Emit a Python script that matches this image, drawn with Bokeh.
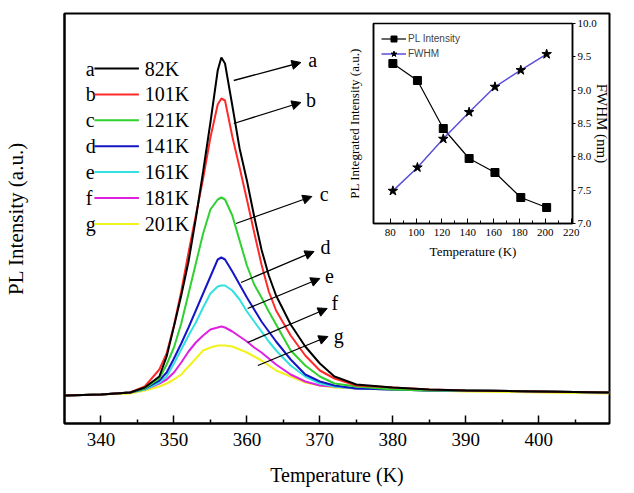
from bokeh.plotting import figure
from bokeh.models import (Range1d, LinearAxis, FixedTicker, Arrow, NormalHead,
                          Legend, LegendItem, NumeralTickFormatter)
from bokeh.layouts import column, row
from bokeh.embed import file_html
from bokeh.resources import INLINE
from bokeh.core.properties import value

# ---------------- main spectra data ----------------
wavelength = [335, 340, 344, 346, 348, 349, 350, 351, 352, 353, 354, 355, 356, 356.5, 357,
              358, 359, 360, 361, 362, 363, 364, 366, 368, 370, 372, 375, 380, 385, 390, 400, 409.7]
pl_82K = [0.00, 0.01, 0.03, 0.08, 0.19, 0.39, 0.69, 1.00, 1.34, 1.77, 2.24, 2.73, 3.25, 3.38, 3.32,
          2.90, 2.47, 2.15, 1.79, 1.46, 1.20, 1.00, 0.71, 0.49, 0.32, 0.19, 0.11, 0.08, 0.06, 0.05, 0.04, 0.03]
pl_101K = [0.00, 0.01, 0.03, 0.09, 0.26, 0.42, 0.70, 1.04, 1.43, 1.80, 2.17, 2.58, 2.91, 2.97, 2.95,
           2.59, 2.28, 1.96, 1.63, 1.31, 1.04, 0.85, 0.60, 0.40, 0.25, 0.17, 0.10, 0.08, 0.06, 0.05, 0.04, 0.03]
pl_121K = [0.00, 0.01, 0.03, 0.07, 0.17, 0.31, 0.48, 0.72, 1.02, 1.32, 1.62, 1.86, 1.96, 1.98, 1.96,
           1.80, 1.55, 1.30, 1.11, 0.98, 0.84, 0.71, 0.45, 0.30, 0.19, 0.12, 0.09, 0.06, 0.05, 0.05, 0.04, 0.03]
pl_141K = [0.00, 0.01, 0.03, 0.07, 0.15, 0.23, 0.37, 0.52, 0.68, 0.85, 1.02, 1.19, 1.36, 1.38, 1.36,
           1.24, 1.11, 0.98, 0.86, 0.74, 0.64, 0.54, 0.36, 0.21, 0.14, 0.10, 0.07, 0.06, 0.05, 0.05, 0.04, 0.03]
pl_161K = [0.00, 0.01, 0.03, 0.06, 0.13, 0.19, 0.32, 0.46, 0.60, 0.73, 0.88, 1.02, 1.09, 1.10, 1.10,
           1.05, 0.96, 0.84, 0.74, 0.64, 0.54, 0.45, 0.30, 0.19, 0.12, 0.09, 0.07, 0.06, 0.05, 0.05, 0.04, 0.03]
pl_181K = [0.00, 0.01, 0.03, 0.06, 0.12, 0.16, 0.23, 0.33, 0.44, 0.53, 0.60, 0.66, 0.68, 0.69, 0.68,
           0.64, 0.59, 0.54, 0.48, 0.43, 0.37, 0.31, 0.21, 0.14, 0.10, 0.09, 0.07, 0.06, 0.05, 0.05, 0.04, 0.03]
pl_201K = [0.00, 0.01, 0.02, 0.05, 0.09, 0.12, 0.16, 0.21, 0.29, 0.37, 0.45, 0.48, 0.50, 0.50, 0.50,
           0.49, 0.46, 0.43, 0.39, 0.35, 0.30, 0.25, 0.19, 0.13, 0.10, 0.08, 0.07, 0.06, 0.05, 0.04, 0.03, 0.02]

series = [pl_82K, pl_101K, pl_121K, pl_141K, pl_161K, pl_181K, pl_201K]
letters = ["a", "b", "c", "d", "e", "f", "g"]
temp_labels = ["82K", "101K", "121K", "141K", "161K", "181K", "201K"]
colors = ["#000000", "#ff2a2a", "#2ed12e", "#1515c8", "#33e0e0", "#e020e0", "#f2f21e"]

x_ticks = [340, 350, 360, 370, 380, 390, 400, 410]
x_minor = [345, 355, 365, 375, 385, 395, 405]

# arrow annotations: start on curve -> end near letter
arrow_x_start = [358.2, 358.2, 358.5, 359.2, 360.1, 360.1, 361.5]
arrow_y_start = [3.15, 2.72, 1.72, 1.13, 0.87, 0.53, 0.30]
arrow_x_end = [367.4, 367.4, 368.9, 369.2, 370.0, 371.0, 371.1]
arrow_y_end = [3.33, 2.93, 1.99, 1.44, 1.17, 0.87, 0.59]
letter_x = [368.4, 368.1, 370.0, 370.1, 370.7, 371.6, 371.9]
letter_y = [3.36, 2.96, 2.02, 1.49, 1.20, 0.93, 0.60]

# ---------------- inset data ----------------
inset_temps = [82, 101, 121, 141, 161, 181, 201]
inset_pl = [0.80, 0.715, 0.475, 0.325, 0.255, 0.13, 0.08]
inset_fwhm = [7.49, 7.84, 8.27, 8.67, 9.05, 9.30, 9.54]
fwhm_ticks = [7.0, 7.5, 8.0, 8.5, 9.0, 9.5, 10.0]
inset_x_ticks = [80, 100, 120, 140, 160, 180, 200, 220]
inset_x_minor = [90, 110, 130, 150, 170, 190, 210]

SERIF = "Liberation Serif"

# ---------------- main figure ----------------
p = figure(frame_width=545, frame_height=410,
           x_range=Range1d(335, 409.7), y_range=Range1d(-0.28, 3.82),
           output_backend="svg", toolbar_location=None,
           min_border_left=63, min_border_right=20, min_border_top=13, min_border_bottom=70)
p.grid.visible = False
p.outline_line_color = "black"
p.outline_line_width = 2
p.background_fill_color = "white"
p.border_fill_color = "white"

xa = p.xaxis[0]
xa.ticker = FixedTicker(ticks=x_ticks, minor_ticks=x_minor)
xa.major_tick_in = 8
xa.major_tick_out = 0
xa.minor_tick_in = 4
xa.minor_tick_out = 0
xa.major_tick_line_width = 1.5
xa.minor_tick_line_width = 1.5
xa.major_tick_line_color = "black"
xa.minor_tick_line_color = "black"
xa.axis_line_width = 2
xa.axis_line_color = "black"
xa.major_label_text_font = SERIF
xa.major_label_text_font_size = "19px"
xa.major_label_text_color = "black"
xa.major_label_standoff = 9
xa.axis_label = "Temperature (K)"
xa.axis_label_text_font = SERIF
xa.axis_label_text_font_size = "20px"
xa.axis_label_text_font_style = "normal"
xa.axis_label_text_color = "black"
xa.axis_label_standoff = 15

ya = p.yaxis[0]
ya.ticker = FixedTicker(ticks=[])
ya.major_tick_in = 0
ya.major_tick_out = 0
ya.minor_tick_in = 0
ya.minor_tick_out = 0
ya.axis_line_width = 2
ya.axis_line_color = "black"
ya.axis_label = "PL Intensity (a.u.)"
ya.axis_label_text_font = SERIF
ya.axis_label_text_font_size = "21px"
ya.axis_label_text_font_style = "normal"
ya.axis_label_text_color = "black"
ya.axis_label_standoff = 37

for ys, c in zip(reversed(series), reversed(colors)):
    p.line(wavelength, ys, line_color=c, line_width=2)

# manual legend (letter, line key, temperature label)
leg_top = 3.27
leg_step = 0.259
leg_rows = [leg_top - i * leg_step for i in range(len(letters))]
p.text(x=[337.9] * 7, y=leg_rows, text=letters, text_font=value(SERIF),
       text_font_size="20px", text_baseline="middle", text_align="left", text_color="black")
p.segment(x0=[339.1] * 7, y0=leg_rows, x1=[345.2] * 7, y1=leg_rows, line_color=colors, line_width=2)
p.text(x=[346.0] * 7, y=leg_rows, text=temp_labels, text_font=value(SERIF),
       text_font_size="20px", text_baseline="middle", text_align="left", text_color="black")

for xs, ys, xe, ye in zip(arrow_x_start, arrow_y_start, arrow_x_end, arrow_y_end):
    p.add_layout(Arrow(end=NormalHead(size=9, fill_color="black", line_color="black"),
                       x_start=xs, y_start=ys, x_end=xe, y_end=ye,
                       line_color="black", line_width=1.3))
p.text(x=letter_x, y=letter_y, text=letters, text_font=value(SERIF), text_font_size="20px",
       text_baseline="middle", text_align="left", text_color="black")

# ---------------- inset figure ----------------
ins = figure(frame_width=199, frame_height=200,
             x_range=Range1d(67, 221), y_range=Range1d(0, 1),
             output_backend="svg", toolbar_location=None,
             min_border_left=33, min_border_right=20, min_border_top=8, min_border_bottom=38)
ins.extra_y_ranges = {"fwhm": Range1d(7.0, 10.0)}
ins.background_fill_color = None
ins.border_fill_color = None
ins.grid.visible = False
ins.outline_line_color = "black"
ins.outline_line_width = 1.5

ix = ins.xaxis[0]
ix.ticker = FixedTicker(ticks=inset_x_ticks, minor_ticks=inset_x_minor)
ix.major_tick_in = 5
ix.major_tick_out = 0
ix.minor_tick_in = 3
ix.minor_tick_out = 0
ix.major_tick_line_color = "black"
ix.minor_tick_line_color = "black"
ix.axis_line_color = "black"
ix.axis_line_width = 1.5
ix.major_label_text_font = SERIF
ix.major_label_text_font_size = "11px"
ix.major_label_text_color = "black"
ix.major_label_standoff = 5
ix.axis_label = "Temperature (K)"
ix.axis_label_text_font = SERIF
ix.axis_label_text_font_size = "13px"
ix.axis_label_text_font_style = "normal"
ix.axis_label_text_color = "black"
ix.axis_label_standoff = 5

iy = ins.yaxis[0]
iy.ticker = FixedTicker(ticks=[])
iy.major_tick_in = 0
iy.major_tick_out = 0
iy.minor_tick_in = 0
iy.minor_tick_out = 0
iy.axis_line_color = "black"
iy.axis_line_width = 1.5
iy.axis_label = "PL Integrated Intensity (a.u.)"
iy.axis_label_text_font = SERIF
iy.axis_label_text_font_size = "13px"
iy.axis_label_text_font_style = "normal"
iy.axis_label_text_color = "black"
iy.axis_label_standoff = 12

ry = LinearAxis(y_range_name="fwhm", ticker=FixedTicker(ticks=fwhm_ticks, minor_ticks=[]),
                formatter=NumeralTickFormatter(format="0.0"))
ry.major_tick_in = 0
ry.major_tick_out = 3
ry.minor_tick_in = 0
ry.minor_tick_out = 0
ry.major_tick_line_color = "black"
ry.axis_line_color = "black"
ry.axis_line_width = 1.5
ry.major_label_text_font = SERIF
ry.major_label_text_font_size = "11px"
ry.major_label_text_color = "black"
ry.major_label_standoff = 2
ry.axis_label = "FWHM (nm)"
ry.axis_label_text_font = SERIF
ry.axis_label_text_font_size = "15px"
ry.axis_label_text_font_style = "normal"
ry.axis_label_text_color = "black"
ry.axis_label_standoff = -6
ins.add_layout(ry, "right")

l1 = ins.line(inset_temps, inset_pl, line_color="black", line_width=1.2)
s1 = ins.scatter(inset_temps, inset_pl, marker="square", size=8, color="black")
l2 = ins.line(inset_temps, inset_fwhm, y_range_name="fwhm", line_color="#5a4fd8", line_width=1.5)
s2 = ins.scatter(inset_temps, inset_fwhm, y_range_name="fwhm", marker="star", size=10, color="black")

legend = Legend(items=[LegendItem(label="PL Intensity", renderers=[l1, s1]),
                       LegendItem(label="FWHM", renderers=[l2, s2])],
                location="top_left", background_fill_alpha=0, border_line_alpha=0,
                label_text_font="Liberation Sans", label_text_font_size="10px",
                glyph_width=25, glyph_height=15, label_height=15, spacing=0,
                margin=4, padding=4, label_standoff=2)
ins.add_layout(legend)

# place the inset (wrapped so its borders are not aligned with the main plot)
inset_box = row(ins)
inset_box.margin = (-478, 0, 0, 340)
layout = column(p, inset_box)

open("out.html", "w").write(file_html(layout, INLINE))
